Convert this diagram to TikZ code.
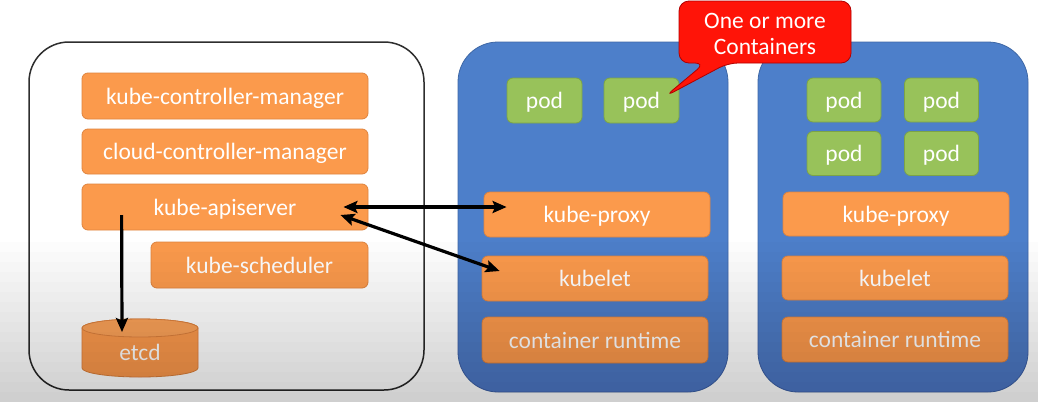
\documentclass[tikz,border=0pt]{standalone}
\usepackage{fontspec}
\setmainfont{Carlito}
\usetikzlibrary{arrows.meta,calc}
\definecolor{kblue}{HTML}{4D7FCA}
\definecolor{kblueb}{HTML}{3F68A6}
\definecolor{korange}{HTML}{FB9A4C}
\definecolor{korangeb}{HTML}{DF843E}
\definecolor{kgreen}{HTML}{98C25A}
\definecolor{kgreenb}{HTML}{7CA446}
\definecolor{kred}{HTML}{FF1408}
\definecolor{kredb}{HTML}{B00000}
\definecolor{kframe}{HTML}{2E2E2E}
\tikzset{
  txt/.style={text=white, font=\fontsize{23.5}{26}\selectfont, inner sep=0pt},
  lbl/.style={txt, text height=19pt, text depth=3pt},
  comp/.style={lbl, draw=korangeb, fill=korange, rounded corners=6pt, line width=0.8pt},
  podbox/.style={lbl, draw=kgreenb, fill=kgreen, rounded corners=6pt, line width=0.8pt, minimum width=75pt, minimum height=45pt},
  nodebox/.style={draw=kblueb, fill=kblue, rounded corners=40pt, line width=0.8pt},
  master/.style={draw=kframe, fill=white, rounded corners=40pt, line width=1.5pt},
  conn/.style={line width=3.2pt, black, >={Stealth[length=14pt, width=12pt, inset=2.5pt]}},
  bubble/.style={draw=kredb, fill=kred, line width=0.8pt, rounded corners=10pt},
  dimlayer/.style={fill=black, fill opacity=0.01},
}
\begin{document}
\begin{tikzpicture}[x=1pt, y=1pt]
\useasboundingbox (0,0) rectangle (1038,-402);
\fill[white] (0,0) rectangle (1038,-402);

% control plane frame
\draw[master] (29,-42) rectangle (424,-390);
\node[comp, minimum width=286pt, minimum height=46pt] (kcm) at (225,-96) {kube-controller-manager};
\node[comp, minimum width=286pt, minimum height=45pt] (ccm) at (225,-151.5) {cloud-controller-manager};
\node[comp, minimum width=286pt, minimum height=46pt] (api) at (225,-207) {kube-apiserver};
\node[comp, minimum width=217pt, minimum height=46pt] (sched) at (259.5,-265) {kube-scheduler};

% etcd cylinder
\path[draw=korangeb, fill=korange, line width=0.8pt]
  (82,-328) -- (82,-368) arc[start angle=180, end angle=360, x radius=58, y radius=9]
  -- (198,-328) arc[start angle=0, end angle=180, x radius=58, y radius=9] -- cycle;
\draw[korangeb, line width=0.8pt, fill=korange!92!white] (140,-328) ellipse[x radius=58, y radius=9];
\node[lbl] (etcd) at (140,-352) {etcd};
\coordinate (etcdtop) at (122,-332);

% worker node 1
\draw[nodebox] (458,-42) rectangle (728,-392);
\node[podbox] (p11) at (544.5,-100.5) {pod};
\node[podbox] (p12) at (641.5,-100.5) {pod};
\node[comp, minimum width=226pt, minimum height=45pt] (proxy1) at (597,-214.5) {kube-proxy};
\node[comp, minimum width=226pt, minimum height=45pt] (kubelet1) at (595,-278.5) {kubelet};
\node[comp, minimum width=226pt, minimum height=46pt] (rt1) at (595,-340) {container runtime};

% worker node 2
\draw[nodebox] (758,-42) rectangle (1028,-392);
\node[podbox, minimum width=74pt, minimum height=44pt] (p21) at (844,-100) {pod};
\node[podbox, minimum width=74pt, minimum height=44pt] (p22) at (941.5,-100) {pod};
\node[podbox, minimum width=74pt, minimum height=44pt] (p23) at (844,-153.5) {pod};
\node[podbox, minimum width=74pt, minimum height=44pt] (p24) at (941.5,-153.5) {pod};
\node[comp, minimum width=226pt, minimum height=44pt] (proxy2) at (896,-214) {kube-proxy};
\node[comp, minimum width=226pt, minimum height=44pt] (kubelet2) at (895,-278) {kubelet};
\node[comp, minimum width=226pt, minimum height=45pt] (rt2) at (895,-339.5) {container runtime};

% connectors
\coordinate (apiA) at ($(api.east)+(-25,0)$);
\coordinate (proxyA) at ($(proxy1.west)+(23,7.5)$);
\coordinate (apiB) at ($(api.east)+(-28,-8)$);
\coordinate (kubeletB) at ($(kubelet1.west)+(18,7.5)$);
\coordinate (apiC) at ($(api.west)+(40,-8)$);
\draw[conn, <->] (apiA) -- (proxyA);
\draw[conn, <->] (apiB) -- (kubeletB);
\draw[conn, ->] (apiC) -- (etcdtop);

% callout
\coordinate (calltip) at ($(p12.center)+(23.5,4)$);
\path[bubble] (705,-63) -- (calltip) -- (728,-63) -- (851,-63) -- (851,-1) -- (679,-1) -- (679,-63) -- cycle;
\node[txt, align=center] (callout) at (765,-34) {One or more\\Containers};

% bottom dimming of the whole slide: stacked faint layers
\foreach \i in {0,...,15} {
  \fill[dimlayer] (0,{-242-10*\i}) rectangle (1038,-402);
}
\end{tikzpicture}
\end{document}
